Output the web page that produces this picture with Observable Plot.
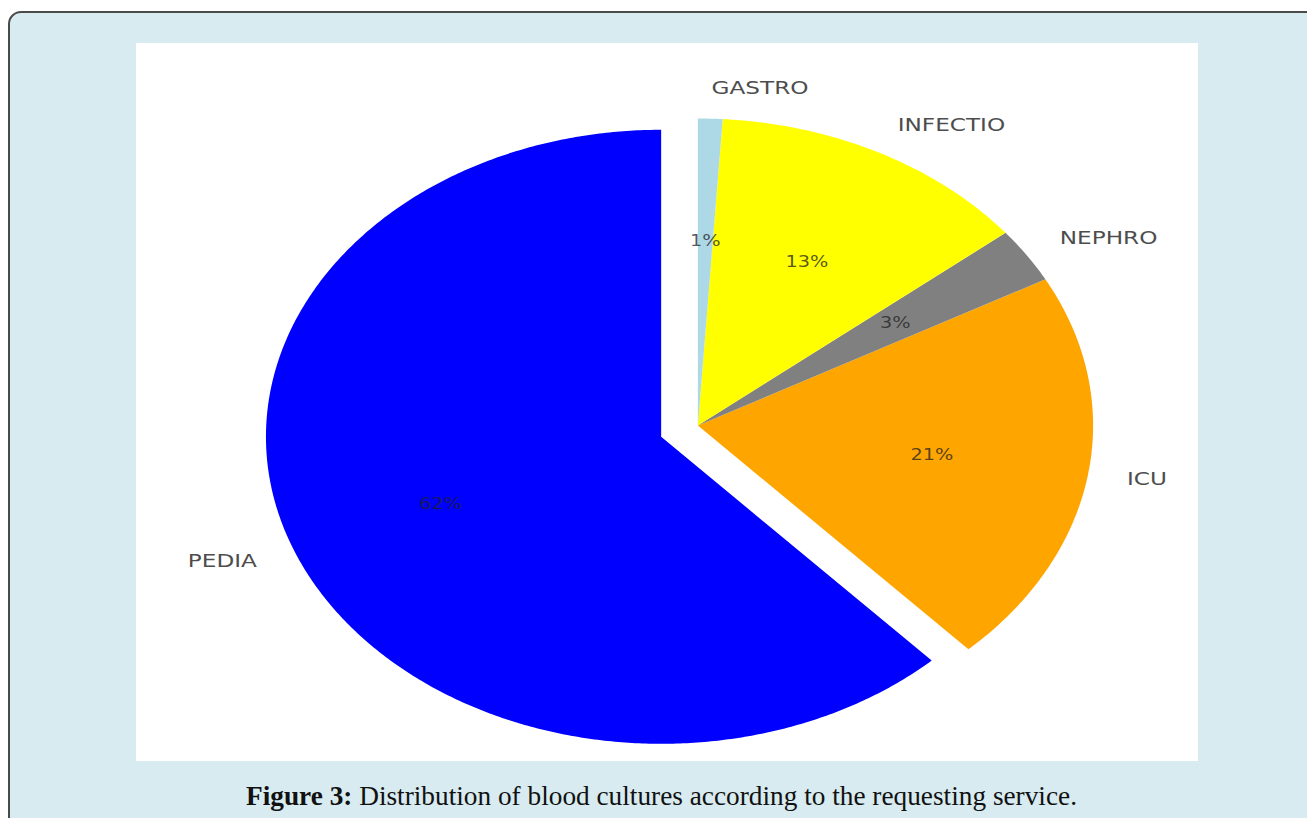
<!DOCTYPE html>
<html>
<head>
<meta charset="utf-8">
<script src="https://cdn.jsdelivr.net/npm/d3@7"></script>
<script src="https://cdn.jsdelivr.net/npm/@observablehq/plot@0.6"></script>
<style>
  html, body { margin: 0; padding: 0; background: #ffffff; width: 1307px; height: 818px; overflow: hidden; }
  #frame { position: absolute; left: 8px; top: 11px; width: 1340px; height: 850px; box-sizing: border-box;
           border: 2px solid #4a4a4a; border-radius: 13px; background: #d7ebf0; }
  #panel { position: absolute; left: 136px; top: 43px; width: 1062px; height: 718px; background: #ffffff; overflow: hidden; }
  #caption { position: absolute; left: 0; top: 770px; }
</style>
</head>
<body>
<div id="frame"></div>
<div id="panel"></div>
<svg id="caption" width="1307" height="48"></svg>
<script>
// ---- data ----
const labels = ["PEDIA", "ICU", "NEPHRO", "INFECTIO", "GASTRO"];
const values = [62.0, 20.9, 2.9, 13.2, 1.0];
const colors = ["#0000ff", "#ffa500", "#808080", "#ffff00", "#add8e6"];
const explode = [0.1, 0, 0, 0, 0];
const captionBold = "Figure 3:";
const captionText = " Distribution of blood cultures according to the requesting service.";

// ---- geometry (matplotlib-style pie: startangle 90, counterclockwise) ----
const total = d3.sum(values);
let start = 90;
const slices = labels.map((label, i) => {
  const sweep = values[i] / total * 360;
  const a0 = start, a1 = start + sweep;
  start = a1;
  const mid = (a0 + a1) / 2 * Math.PI / 180;
  const ex = explode[i] * Math.cos(mid), ey = explode[i] * Math.sin(mid);
  const pts = [{x: ex, y: ey}];
  const n = Math.max(2, Math.ceil(sweep / 0.5));
  for (let k = 0; k <= n; k++) {
    const a = (a0 + (a1 - a0) * k / n) * Math.PI / 180;
    pts.push({x: ex + Math.cos(a), y: ey + Math.sin(a)});
  }
  return {
    label, color: colors[i], pts,
    lx: ex + 1.1 * Math.cos(mid), ly: ey + 1.1 * Math.sin(mid),
    px: ex + 0.6 * Math.cos(mid), py: ey + 0.6 * Math.sin(mid),
    pct: Math.round(values[i] / total * 100) + "%"
  };
});

// logical (unstretched) plot size; the figure is stretched horizontally like the original
const W = 825, H = 718, R = 307, CX = 436, CY = 382;

const marks = slices.map(s => Plot.line(s.pts, {
  x: "x", y: "y", curve: "linear-closed", fill: s.color, stroke: "none"
}));
marks.push(Plot.text(slices.filter(s => s.lx >= 0), {
  x: "lx", y: "ly", text: "label", textAnchor: "start",
  fontSize: 18, fontFamily: "DejaVu Sans", fill: "#4d4d4d"
}));
marks.push(Plot.text(slices.filter(s => s.lx < 0), {
  x: "lx", y: "ly", text: "label", textAnchor: "end",
  fontSize: 18, fontFamily: "DejaVu Sans", fill: "#4d4d4d"
}));
marks.push(Plot.text(slices, {
  x: "px", y: "py", text: "pct",
  fontSize: 15, fontFamily: "DejaVu Sans", fill: "#222222", fillOpacity: 0.75
}));

const chart = Plot.plot({
  width: W, height: H,
  margin: 0,
  x: {domain: [-CX / R, (W - CX) / R], axis: null},
  y: {domain: [-(H - CY) / R, CY / R], axis: null},
  style: {background: "transparent"},
  marks
});
chart.setAttribute("width", 1062);
chart.setAttribute("height", H);
chart.setAttribute("preserveAspectRatio", "none");
chart.style.width = "1062px";
chart.style.height = H + "px";
chart.style.maxWidth = "none";
document.getElementById("panel").appendChild(chart);

// caption
const cap = d3.select("#caption");
const t = cap.append("text")
  .attr("x", 246).attr("y", 35)
  .attr("textLength", 831).attr("lengthAdjust", "spacingAndGlyphs")
  .attr("font-family", "Liberation Serif").attr("font-size", 28).attr("fill", "#111");
t.append("tspan").attr("font-weight", "bold").text(captionBold);
t.append("tspan").text(captionText);
</script>
</body>
</html>
